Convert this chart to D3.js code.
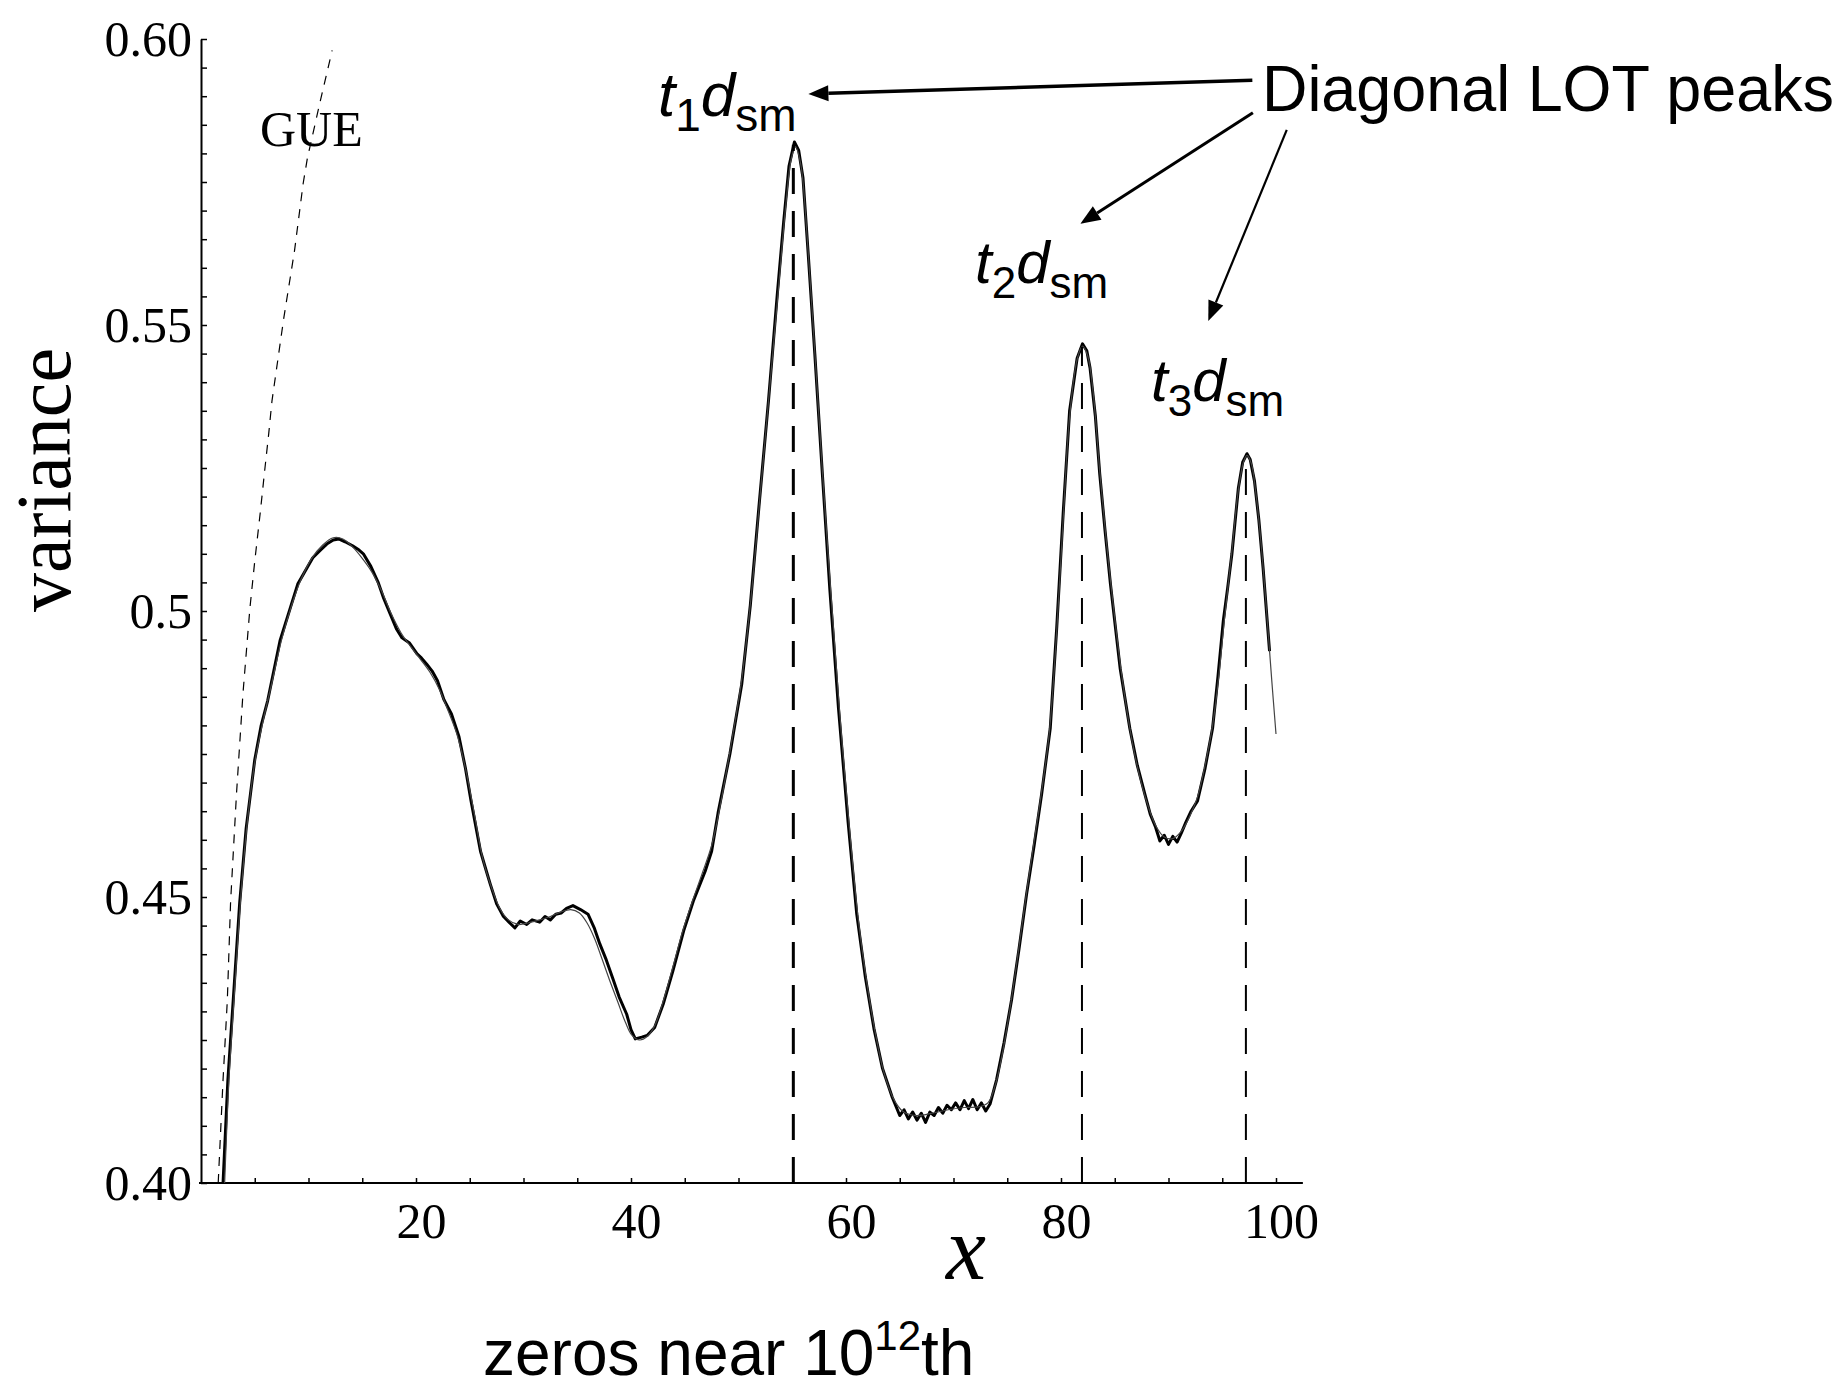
<!DOCTYPE html>
<html>
<head>
<meta charset="utf-8">
<script src="https://cdn.jsdelivr.net/npm/d3@7"></script>
<style>
  body { margin: 0; background: #fff; }
</style>
</head>
<body>
<div class="container"></div>
<script>
let width = 1846
let height = 1389

// measured variance, zeros near 10^12 (thick, jagged curve)
let measured = [
  [2.05,0.400],[2.5,0.418],[3.0,0.432],[3.6,0.449],[4.2,0.462],[5.0,0.474],[5.6,0.480],[6.2,0.4843],
  [7.35,0.4948],[8.3,0.5005],[9.0,0.5047],[10.4,0.5093],[11.2,0.5108],[11.7,0.5117],[12.3,0.5124],
  [12.8,0.5126],[13.4,0.5121],[14.1,0.5114],[14.6,0.5108],[15.1,0.5100],[15.8,0.5078],[16.5,0.5049],
  [17.0,0.5022],[17.6,0.4995],[18.2,0.4968],[18.7,0.4953],[19.4,0.4944],[20.1,0.4925],[20.5,0.4918],
  [21.0,0.4907],[21.5,0.4895],[22.0,0.4878],[22.6,0.4845],[23.3,0.4820],[24.0,0.4780],[24.6,0.4725],
  [25.1,0.4670],[25.6,0.4620],[26.0,0.4580],[26.5,0.4548],[26.9,0.4523],[27.5,0.4488],[28.1,0.4467],
  [28.7,0.4455],[29.2,0.4446],[29.7,0.4458],[30.3,0.4452],[30.8,0.4460],[31.5,0.4456],[32.0,0.4466],
  [32.5,0.4460],[33.0,0.4470],[33.5,0.4472],[34.0,0.4480],[34.6,0.4485],[35.3,0.4478],[36.0,0.4470],
  [36.6,0.4445],[37.1,0.4418],[37.7,0.4390],[38.3,0.4358],[38.9,0.4325],[39.6,0.4295],[40.0,0.4268],
  [40.4,0.4252],[41.0,0.4255],[41.5,0.4258],[42.2,0.4272],[43.0,0.4313],[43.9,0.4371],[44.9,0.4441],
  [45.8,0.4493],[46.9,0.4545],[47.5,0.4580],[48.1,0.4647],[49.2,0.4750],[50.3,0.4872],[51.1,0.5010],
  [51.9,0.5182],[52.8,0.5370],[53.6,0.5552],[54.2,0.5680],[54.7,0.5778],[55.2,0.5820],[55.6,0.5805],
  [56.0,0.5757],[56.5,0.5620],[57.1,0.5449],[57.8,0.5240],[58.5,0.5037],[59.3,0.4830],[60.2,0.4630],
  [61.0,0.4470],[61.8,0.4360],[62.6,0.4270],[63.4,0.4200],[64.3,0.4150],[65.0,0.4118],[65.4,0.4128],
  [65.8,0.4112],[66.2,0.4124],[66.6,0.4110],[67.0,0.4122],[67.4,0.4106],[67.8,0.4124],[68.2,0.4118],
  [68.6,0.4132],[69.0,0.4122],[69.4,0.4136],[69.8,0.4128],[70.2,0.4140],[70.6,0.4128],[71.0,0.4144],
  [71.4,0.4130],[71.8,0.4146],[72.2,0.4128],[72.6,0.4140],[73.0,0.4126],[73.4,0.4138],[74.0,0.4180],
  [74.7,0.4245],[75.4,0.4320],[76.1,0.4410],[76.8,0.4505],[77.5,0.4590],[78.2,0.4680],[79.0,0.4795],
  [79.6,0.4970],[80.2,0.5170],[80.8,0.5350],[81.5,0.5442],[82.0,0.5467],[82.4,0.5455],[82.7,0.5425],
  [83.2,0.5340],[83.6,0.5240],[84.1,0.5140],[84.6,0.5047],[85.5,0.4900],[86.4,0.4795],[87.1,0.4730],
  [87.8,0.4680],[88.3,0.4645],[88.8,0.4622],[89.2,0.4598],[89.6,0.4608],[90.0,0.4592],[90.4,0.4606],
  [90.8,0.4596],[91.2,0.4612],[91.6,0.4630],[92.1,0.4650],[92.7,0.4668],[93.4,0.4725],[94.1,0.4795],
  [94.6,0.4885],[95.1,0.4983],[95.5,0.5040],[95.9,0.5100],[96.5,0.5215],[96.9,0.5260],[97.3,0.5275],
  [97.6,0.5265],[98.0,0.5227],[98.4,0.5160],[98.8,0.5075],[99.4,0.4930]
]

// smooth prediction (thin curve)
let theory = [
  [2.2,0.400],[2.6,0.418],[3.1,0.433],[3.7,0.450],[4.3,0.463],[5.0,0.4735],[5.8,0.481],[6.6,0.4875],
  [7.5,0.4950],[8.4,0.5008],[9.3,0.5055],[10.3,0.5092],[11.3,0.5115],[12.3,0.5128],[13.2,0.5126],
  [14.1,0.5112],[15.0,0.5092],[15.9,0.5068],[16.8,0.5035],[17.7,0.4995],[18.6,0.4962],[19.5,0.4938],
  [20.4,0.4916],[21.3,0.4893],[22.2,0.4862],[23.0,0.4825],[23.8,0.4785],[24.6,0.4725],[25.4,0.4648],
  [26.2,0.4568],[27.0,0.4518],[27.8,0.4480],[28.6,0.4460],[29.5,0.4452],[30.5,0.4455],[31.5,0.4460],
  [32.5,0.4466],[33.5,0.4474],[34.4,0.4478],[35.2,0.4472],[35.9,0.4455],[36.6,0.4428],[37.3,0.4392],
  [38.0,0.4355],[38.8,0.4315],[39.5,0.4280],[40.1,0.4258],[40.8,0.4250],[41.5,0.4256],[42.2,0.4275],
  [43.0,0.4318],[43.9,0.4378],[44.8,0.4440],[45.7,0.4492],[46.6,0.4540],[47.5,0.4590],[48.3,0.4660],
  [49.3,0.4765],[50.3,0.4880],[51.2,0.5030],[52.0,0.5200],[52.9,0.5390],[53.7,0.5560],[54.4,0.5710],
  [54.9,0.5790],[55.3,0.5812],[55.8,0.5780],[56.4,0.5650],[57.1,0.5452],[57.8,0.5245],[58.6,0.5030],
  [59.4,0.4825],[60.3,0.4625],[61.1,0.4468],[61.9,0.4355],[62.7,0.4265],[63.5,0.4195],[64.4,0.4148],
  [65.3,0.4125],[66.5,0.4118],[68.0,0.4122],[69.5,0.4128],[71.0,0.4132],[72.3,0.4133],[73.2,0.4140],
  [73.9,0.4172],[74.6,0.4232],[75.3,0.4310],[76.0,0.4400],[76.7,0.4495],[77.4,0.4585],[78.1,0.4672],
  [78.9,0.4785],[79.6,0.4965],[80.2,0.5160],[80.8,0.5340],[81.5,0.5440],[82.0,0.5463],[82.5,0.5445],
  [83.0,0.5380],[83.6,0.5245],[84.2,0.5125],[84.8,0.5020],[85.6,0.4895],[86.4,0.4795],[87.2,0.4720],
  [88.0,0.4665],[88.8,0.4625],[89.6,0.4605],[90.4,0.4602],[91.2,0.4615],[92.0,0.4642],[92.7,0.4675],
  [93.4,0.4730],[94.1,0.4800],[94.7,0.4890],[95.2,0.4985],[95.9,0.5105],[96.5,0.5212],[97.0,0.5262],
  [97.3,0.5272],[97.7,0.5258],[98.1,0.5210],[98.6,0.5120],[99.1,0.5005],[99.6,0.4880],[100.0,0.4785]
]

// GUE prediction (dashed)
let gue = [
  [1.6,0.400],[2.05,0.418],[2.45,0.432],[2.75,0.449],[3.3,0.468],[3.9,0.4855],[4.55,0.5005],
  [5.0,0.5087],[5.5,0.517],[5.95,0.525],[6.3,0.531],[6.6,0.5367],[7.7,0.5512],[8.7,0.563],
  [9.5,0.5747],[9.9,0.5792],[11.1,0.5892],[12.2,0.598]
]

// diagonal LOT peak positions and heights
let peakX = [55.1, 81.95, 97.2]
let peakTop = [0.5815, 0.5462, 0.5270]
let peakLabels = ["1", "2", "3"]

let yTicks = [0.40, 0.45, 0.5, 0.55, 0.60]
let yTickLabels = ["0.40", "0.45", "0.5", "0.55", "0.60"]
let xTicks = [20, 40, 60, 80, 100]

// arrows, from the "Diagonal LOT peaks" label, in data units
let arrowFrom = [[97.8, 0.5928], [97.85, 0.5871], [101.0, 0.5841]]
let arrowTo = [[56.5, 0.5904], [81.8, 0.5677], [93.7, 0.5507]]
let arrowWidth = [3.5, 3, 2.2]

let serif = "'Liberation Serif', 'Times New Roman', serif"
let sans = "'Liberation Sans', Arial, sans-serif"

let x = d3.scaleLinear().domain([0, 100]).range([201, 1276])
let y = d3.scaleLinear().domain([0.40, 0.60]).range([1183, 39])

let svg = d3.select(".container")
  .append("svg")
  .attr("width", width)
  .attr("height", height)
  .style("background", "#fff")

// y axis: minor ticks inside, labels outside
let yMinor = d3.range(0, 41).map(function (i) { return 0.40 + i * 0.005 })
svg.append("g")
  .attr("transform", "translate(" + x(0) + ",0)")
  .call(d3.axisRight(y).tickValues(yMinor).tickSize(6).tickSizeOuter(0).tickFormat(""))
  .call(function (g) { g.selectAll("line").attr("stroke-width", 1.5) })
  .call(function (g) { g.select(".domain").attr("stroke-width", 2) })

svg.append("g")
  .attr("transform", "translate(" + x(0) + ",0)")
  .call(d3.axisLeft(y).tickValues(yTicks).tickSize(0).tickPadding(9)
    .tickFormat(function (d, i) { return yTickLabels[i] }))
  .call(function (g) { g.select(".domain").remove() })
  .attr("font-family", serif)
  .attr("font-size", 50)

// x axis
svg.append("line")
  .attr("x1", x(0) - 2).attr("x2", x(102.5))
  .attr("y1", y(0.40)).attr("y2", y(0.40))
  .attr("stroke", "#000").attr("stroke-width", 2)

svg.append("g")
  .attr("transform", "translate(0," + y(0.40) + ")")
  .call(d3.axisTop(x).tickValues(d3.range(5, 101, 5)).tickSize(5).tickFormat(""))
  .call(function (g) { g.select(".domain").remove() })
  .call(function (g) { g.selectAll("line").attr("stroke-width", 1.5) })

svg.append("g")
  .attr("transform", "translate(0," + y(0.40) + ")")
  .call(d3.axisBottom(x).tickValues(xTicks).tickSize(0).tickPadding(19))
  .call(function (g) { g.select(".domain").remove() })
  .attr("font-family", serif)
  .attr("font-size", 50)
  .selectAll("text").attr("dx", 5)

// curves
let line = d3.line()
  .x(function (d) { return x(d[0]) })
  .y(function (d) { return y(d[1]) })

svg.append("path")
  .datum(gue)
  .attr("d", line)
  .attr("fill", "none")
  .attr("stroke", "#000")
  .attr("stroke-width", 1.2)
  .attr("stroke-dasharray", "9,8")

svg.append("path")
  .datum(measured)
  .attr("d", line)
  .attr("fill", "none")
  .attr("stroke", "#000")
  .attr("stroke-width", 3)
  .attr("stroke-linejoin", "round")

svg.append("path")
  .datum(theory)
  .attr("d", d3.line().curve(d3.curveCatmullRom)
    .x(function (d) { return x(d[0]) })
    .y(function (d) { return y(d[1]) }))
  .attr("fill", "none")
  .attr("stroke", "#444")
  .attr("stroke-width", 1.2)

// dashed verticals at the peaks
svg.selectAll(".peakLine")
  .data(peakX)
  .enter()
  .append("line")
  .attr("class", "peakLine")
  .attr("x1", function (d) { return x(d) })
  .attr("x2", function (d) { return x(d) })
  .attr("y1", y(0.40))
  .attr("y2", function (d, i) { return y(peakTop[i]) })
  .attr("stroke", "#000")
  .attr("stroke-width", function (d, i) { return i === 0 ? 3 : 2 })
  .attr("stroke-dasharray", "26,17")

// GUE label
svg.append("text")
  .attr("x", 260).attr("y", 146)
  .attr("font-family", serif)
  .attr("font-size", 50)
  .text("GUE")

// axis titles
svg.append("text")
  .attr("transform", "translate(70,480) rotate(-90)")
  .attr("text-anchor", "middle")
  .attr("font-family", serif)
  .attr("font-size", 78)
  .text("variance")

svg.append("text")
  .attr("x", 946).attr("y", 1279)
  .attr("font-family", serif)
  .attr("font-style", "italic")
  .attr("font-size", 90)
  .text("x")

let xTitle = svg.append("text")
  .attr("x", 483).attr("y", 1375)
  .attr("font-family", sans)
  .attr("font-size", 64)
xTitle.append("tspan").text("zeros near 10")
xTitle.append("tspan").attr("font-size", 42).attr("dy", -25).text("12")
xTitle.append("tspan").attr("dy", 25).text("th")

// annotation
svg.append("text")
  .attr("x", 1262).attr("y", 111)
  .attr("font-family", sans)
  .attr("font-size", 64)
  .attr("textLength", 572)
  .attr("lengthAdjust", "spacingAndGlyphs")
  .text("Diagonal LOT peaks")

let labelPos = [[658, 116], [975, 283], [1151, 401]]
let labelSize = [62, 60, 60]
labelPos.forEach(function (p, i) {
  let sub = Math.round(labelSize[i] * 0.74)
  let t = svg.append("text")
    .attr("x", p[0]).attr("y", p[1])
    .attr("font-family", sans)
    .attr("font-size", labelSize[i])
  t.append("tspan").attr("font-style", "italic").text("t")
  t.append("tspan").attr("font-size", sub).attr("dy", 15).text(peakLabels[i])
  t.append("tspan").attr("font-style", "italic").attr("dy", -15).text("d")
  t.append("tspan").attr("font-size", sub).attr("dy", 15).text("sm")
})

// arrows
arrowFrom.forEach(function (f, i) {
  let x1 = x(f[0]), y1 = y(f[1])
  let x2 = x(arrowTo[i][0]), y2 = y(arrowTo[i][1])
  let a = Math.atan2(y2 - y1, x2 - x1)
  let len = 20, half = 8
  let bx = x2 - len * Math.cos(a), by = y2 - len * Math.sin(a)
  svg.append("line")
    .attr("x1", x1).attr("y1", y1)
    .attr("x2", bx).attr("y2", by)
    .attr("stroke", "#000")
    .attr("stroke-width", arrowWidth[i])
  let pts = [
    [x2, y2],
    [bx + half * Math.sin(a), by - half * Math.cos(a)],
    [bx - half * Math.sin(a), by + half * Math.cos(a)]
  ]
  svg.append("polygon")
    .attr("points", pts.map(function (p) { return p.join(",") }).join(" "))
    .attr("fill", "#000")
})
</script>
</body>
</html>
